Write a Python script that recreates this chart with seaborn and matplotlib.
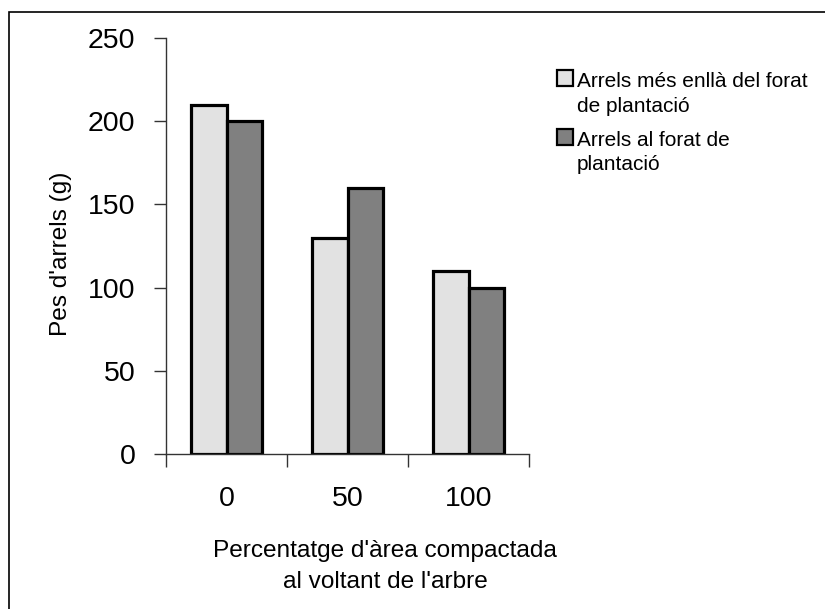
import matplotlib
matplotlib.use("Agg")
import matplotlib.pyplot as plt
import matplotlib.patches as mpatches
import pandas as pd
import seaborn as sns

# Root weight by compacted area around the tree
categories = ["0", "50", "100"]
series_names = ["Arrels més enllà del forat de plantació",
                "Arrels al forat de plantació"]
legend_lines = [["Arrels més enllà del forat", "de plantació"],
                ["Arrels al forat de", "plantació"]]
beyond_hole = [210, 130, 110]
in_hole = [200, 160, 100]
yticks = [0, 50, 100, 150, 200, 250]

df = pd.DataFrame({
    "cat": categories * 2,
    "serie": [series_names[0]] * 3 + [series_names[1]] * 3,
    "pes": beyond_hole + in_hole,
})

sns.set_theme(style="white")
plt.rcParams["font.family"] = ["Liberation Sans", "DejaVu Sans"]
plt.rcParams["text.color"] = "black"
plt.rcParams["xtick.color"] = "black"
plt.rcParams["ytick.color"] = "black"

colors = ["#e2e2e2", "#808080"]

W, H = 825, 609
fig = plt.figure(figsize=(W / 100, H / 100), dpi=100)
ax = fig.add_axes([166 / W, 1 - 454 / H, (529 - 166) / W, (454 - 38) / H])

sns.barplot(data=df, x="cat", y="pes", hue="serie", order=categories,
            hue_order=series_names, palette=colors, width=0.58,
            edgecolor="black", linewidth=2.3, saturation=1, ax=ax, legend=False)

ax.set_xlim(-0.5, 2.5)
ax.set_ylim(0, 250)
ax.set_yticks(yticks)
ax.set_yticklabels([str(v) for v in yticks], fontsize=20.5)
ax.set_xticks([-0.5, 0.5, 1.5, 2.5])
ax.set_xticklabels([])
ax.set_xticks([0, 1, 2], minor=True)
ax.set_xticklabels(categories, minor=True, fontsize=20.5)
ax.tick_params(axis="x", which="major", direction="out", length=9, width=1,
               color="#333333", bottom=True)
ax.tick_params(axis="x", which="minor", length=0, pad=23)
ax.tick_params(axis="y", direction="out", length=9, width=1, color="#333333",
               left=True, pad=13)
for s in ["top", "right"]:
    ax.spines[s].set_visible(False)
for s in ["left", "bottom"]:
    ax.spines[s].set_color("#333333")
    ax.spines[s].set_linewidth(1)
ax.set_xlabel("")
ax.set_ylabel("")

fig.text(61 / W, 1 - 254 / H, "Pes d'arrels (g)", rotation=90,
         ha="center", va="center", fontsize=17.6)
for line, base in zip(["Percentatge d'àrea compactada", "al voltant de l'arbre"],
                      [557, 588]):
    fig.text(385 / W, 1 - base / H, line, ha="center", va="baseline",
             fontsize=17.6)

# Legend: square swatch aligned with the first line of each label
legend_baselines = [87, 146]
for color, lines, base in zip(colors, legend_lines, legend_baselines):
    fig.add_artist(mpatches.Rectangle((557 / W, 1 - (base - 1) / H), 16 / W, 16 / H,
                                      transform=fig.transFigure,
                                      facecolor=color, edgecolor="black",
                                      linewidth=1.6))
    for i, txt in enumerate(lines):
        fig.text(577 / W, 1 - (base + 24.5 * i) / H, txt, ha="left",
                 va="baseline", fontsize=15)

# Outer chart frame (only top and left edges fall inside the canvas)
fig.add_artist(mpatches.Rectangle((9 / W, -0.1), 1.2, 1 - 12 / H + 0.1,
                                  transform=fig.transFigure, fill=False,
                                  edgecolor="black", linewidth=1.2))

fig.savefig("out.png", dpi=100)
